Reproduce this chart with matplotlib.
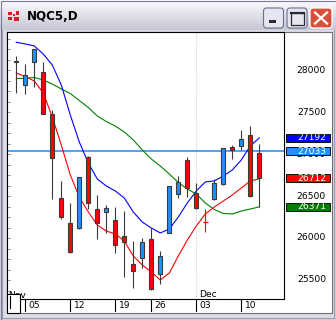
import matplotlib
matplotlib.use('Agg')
import matplotlib.pyplot as plt
from matplotlib.patches import Rectangle, FancyBboxPatch
from matplotlib.transforms import blended_transform_factory
import numpy as np

W, H, DPI = 336, 320, 100

title = 'NQC5,D'
opens = [28113, 27818, 28092, 27973, 27473, 26473, 26179, 26115, 26964, 26342, 26306, 26211, 26020, 25687,
         25765, 25985, 25568, 26056, 26520, 26925, 26536, 26190, 26470, 26637, 27087, 27092, 27223, 27015]
highs = [28167, 28071, 28250, 28095, 27524, 26679, 26417, 26726, 26976, 26512, 26393, 26369, 26321, 25968,
         25996, 26119, 25849, 26619, 26738, 26964, 26655, 26345, 26702, 27077, 27111, 27286, 27333, 27115]
lows = [27723, 27711, 27794, 27473, 26464, 26230, 25818, 26107, 26349, 25992, 26063, 25821, 25530, 25405,
        25643, 25377, 25449, 26056, 26473, 26488, 26342, 26075, 26452, 26631, 26944, 27048, 26485, 26373]
closes = [28092, 27940, 28250, 27473, 26949, 26254, 25830, 26726, 26420, 26175, 26354, 25913, 25949, 25604,
          25949, 25389, 25789, 26615, 26663, 26592, 26354, 26184, 26651, 27077, 27044, 27175, 26500, 26712]
ma_blue = [28330, 28310, 28286, 28190, 28060, 27821, 27464, 27143, 26893, 26702, 26619, 26560, 26476, 26310,
           26190, 26119, 26060, 26107, 26250, 26417, 26560, 26667, 26679, 26738, 26810, 26929, 27095, 27192]
ma_red = [27964, 27923, 27869, 27726, 27440, 27107, 26750, 26488, 26310, 26155, 26083, 26048, 25964, 25786,
          25679, 25595, 25500, 25583, 25786, 25976, 26143, 26286, 26369, 26440, 26512, 26595, 26679, 26705]
ma_green = [27899, 27901, 27911, 27881, 27833, 27774, 27720, 27637, 27554, 27452, 27387, 27333, 27262, 27167,
            27048, 26940, 26857, 26762, 26661, 26583, 26524, 26417, 26339, 26292, 26286, 26321, 26345, 26371]
level_line = 27033
price_ticks = [25500, 26000, 26500, 27000, 27500, 28000]
date_tick_idx = [1, 6, 11, 15, 20, 25]
date_tick_labels = ['05', '12', '19', '26', '03', '10']
month_labels = ['Nov', 'Dec']
month_idx = [1, 20]
badge_values = [27192, 27033, 26712, 26371]
badge_labels = ['27192', '27033', '26712', '26371']
badge_colors = ['#0000FF', '#1E90FF', '#FF0000', '#008000']

FONT = 'DejaVu Sans'
fig = plt.figure(figsize=(W / DPI, H / DPI), dpi=DPI)
fig.patch.set_facecolor('#D6D6DE')

# ---------- background chrome (pixel coords) ----------
bg = fig.add_axes([0, 0, 1, 1], zorder=-1)
bg.set_xlim(0, W); bg.set_ylim(H, 0); bg.axis('off')
grad = np.linspace(0, 1, 64)[:, None]
top = np.array([0.985, 0.985, 0.995]); bot = np.array([0.78, 0.78, 0.84])
img = top[None, None, :] * (1 - grad[..., None]) + bot[None, None, :] * grad[..., None]
bg.imshow(np.repeat(img, 4, axis=1), extent=(0, W, 30, 0), aspect='auto', zorder=0)
bg.add_patch(Rectangle((0.5, 0.5), W - 1, H - 1, fill=False, ec='#7A7A96', lw=0.8, zorder=1))
bg.add_patch(Rectangle((2, 30), W - 4, H - 32, fc='#DCDCE4', ec='none', zorder=1))
bg.add_patch(Rectangle((6.5, 31.5), 325, 281, fc='white', ec='#707070', lw=0.8, zorder=2))
bg.plot([1.5, 1.5], [30, H - 2], color='#9A9AB0', lw=0.8, zorder=2)
bg.plot([W - 2, W - 2], [30, H - 2], color='#9A9AB0', lw=0.8, zorder=2)
bg.plot([2, W - 2], [H - 2.5, H - 2.5], color='#9A9AB0', lw=0.8, zorder=2)

# title icon
for (x0, y0, w, h) in [(8, 12, 4, 3), (13, 14, 2, 2), (16, 11, 3, 4), (8, 17, 4, 3), (14, 17, 5, 4)]:
    bg.add_patch(Rectangle((x0, y0), w, h, fc='#D02020', ec='none', zorder=3))
bg.text(27, 16.5, title, fontsize=8.6, fontweight='bold', family=FONT, color='black',
        ha='left', va='center', zorder=3)

# buttons
for x0 in (263.5, 287):
    bg.add_patch(FancyBboxPatch((x0, 8), 20, 20, boxstyle='round,pad=0,rounding_size=3',
                                fc='#E6E6F0', ec='#6E6E90', lw=0.8, zorder=3))
bg.add_patch(Rectangle((269, 20), 7, 2.5, fc='#2A2A3A', ec='none', zorder=4))
bg.add_patch(Rectangle((291, 12.5), 13, 12.5, fill=False, ec='#2A2A3A', lw=0.9, zorder=4))
bg.plot([291, 304], [13.3, 13.3], color='#2A2A3A', lw=1.6, zorder=4)
bg.add_patch(FancyBboxPatch((310, 8), 22, 20, boxstyle='round,pad=0,rounding_size=3',
                            fc='#D8503C', ec='#FFFFFF', lw=0.9, zorder=3))
bg.plot([315, 327], [12.5, 23.5], color='white', lw=1.6, zorder=4)
bg.plot([327, 315], [12.5, 23.5], color='white', lw=1.6, zorder=4)

# ---------- main chart ----------
L, R, T, B = 7, 284, 32, 299
ax = fig.add_axes([L / W, 1 - B / H, (R - L) / W, (B - T) / H], zorder=1)
x0px, step = 16.3, 9.0
ax.set_xlim((L - x0px) / step, (R - x0px) / step)
p_per_px = 500 / 42.0
ax.set_ylim(28000 - (B - 70) * p_per_px, 28000 + (70 - T) * p_per_px)
ax.set_facecolor('white')
for s in ax.spines.values():
    s.set_color('black'); s.set_linewidth(0.8)
ax.set_xticks([]); ax.set_yticks([])

n = len(opens)
idx = np.arange(n)
grid_c = '#C4C4C4'
# grid dots
for p in range(25500, 28500, 500):
    ax.scatter(idx, [p] * n, s=0.5, marker='s', color=grid_c, lw=0, zorder=1)
for ti in date_tick_idx:
    ys = np.arange(25500, 28500, 250)
    ax.scatter([ti] * len(ys), ys, s=0.5, marker='s', color=grid_c, lw=0, zorder=1)
ax.axvline(month_idx[1], color=grid_c, lw=0.7, ls=(0, (1, 1.6)), zorder=1)
yt = ax.get_yaxis_transform()
for p in range(25375, 28500, 125):
    ax.plot([0, 2.5 / (R - L)], [p, p], transform=yt, color='#9A9AA8', lw=0.7, zorder=1)

# level line
ax.axhline(level_line, color='#1E8CFF', lw=1.1, zorder=2)

# moving averages
ax.plot(idx, ma_green, color='#008000', lw=0.8, zorder=3)
ax.plot(idx, ma_blue, color='#0000FF', lw=0.8, zorder=3)
ax.plot(idx, ma_red, color='#FF0000', lw=0.8, zorder=3)

# candles
bw = 0.47
for i in range(n):
    o, h, l, c = opens[i], highs[i], lows[i], closes[i]
    col = '#FF0000' if c < o else '#1E90FF'
    if abs(o - c) < 15:
        ax.vlines(i, l, h, color=col, lw=0.8, zorder=4)
        ax.hlines((o + c) / 2, i - 0.3, i + 0.3, color=col, lw=0.9, zorder=4)
        continue
    ax.vlines(i, l, h, color='#3A3A3A', lw=0.8, zorder=4)
    ax.add_patch(Rectangle((i - bw / 2, min(o, c)), bw, abs(c - o), fc=col, ec='#3A3A3A',
                           lw=0.8, zorder=5))

# right price labels
lab_x = 1 + (326 - R) / (R - L)
for p in price_ticks:
    ax.text(lab_x, p, str(p), transform=yt, ha='right', va='center', fontsize=6.6,
            family=FONT, color='black', clip_on=False, zorder=6)
half = 4.2 * p_per_px
for v, lab, col in zip(badge_values, badge_labels, badge_colors):
    ax.add_patch(Rectangle((1 + 1.5 / (R - L), v - half), 44 / (R - L), 2 * half, transform=yt,
                           fc=col, ec='#101010', lw=0.7, clip_on=False, zorder=7))
    ax.text(lab_x, v, lab, transform=yt, ha='right', va='center', fontsize=6.6, family=FONT,
            color='white', clip_on=False, zorder=8)

# date axis
xt = blended_transform_factory(ax.transData, ax.transAxes)
tick_len = 12 / (B - T)
for ti, lab in zip(date_tick_idx, date_tick_labels):
    ax.plot([ti, ti], [0, -tick_len], transform=xt, color='black', lw=0.8, clip_on=False)
    ax.annotate(lab, xy=(ti, 0), xycoords=xt, xytext=(3.2 * 0.72, -7 * 0.72),
                textcoords='offset points', ha='left', va='center', fontsize=6.6,
                family=FONT, annotation_clip=False)
ax.annotate(month_labels[0], xy=(month_idx[0], 0), xycoords=xt, xytext=(0.3 * 0.72, 3.6 * 0.72),
            textcoords='offset points', ha='right', va='center', fontsize=6.6, family=FONT,
            annotation_clip=False)
ax.annotate(month_labels[1], xy=(month_idx[1], 0), xycoords=xt, xytext=(2.8 * 0.72, 4.4 * 0.72),
            textcoords='offset points', ha='left', va='center', fontsize=6.6, family=FONT,
            annotation_clip=False)

# ---------- foreground chrome ----------
fg = fig.add_axes([0, 0, 1, 1], zorder=10)
fg.set_xlim(0, W); fg.set_ylim(H, 0); fg.axis('off'); fg.patch.set_alpha(0)
fg.add_patch(Rectangle((7.3, 294), 12.4, 19.3, fc='white', ec='black', lw=0.8))
fg.plot([9.7, 9.7], [296, 307.5], color='black', lw=0.8)

fig.savefig('out.png', dpi=DPI)
